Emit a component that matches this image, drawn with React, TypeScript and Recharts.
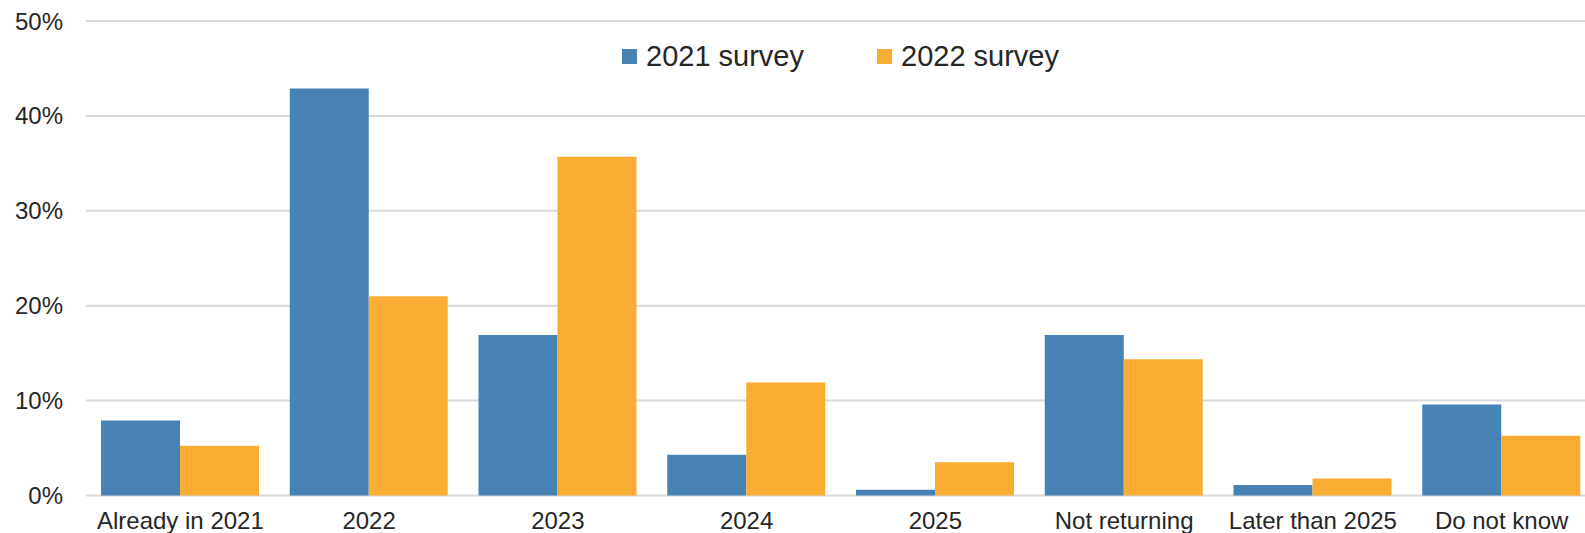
import { BarChart, Bar, XAxis, YAxis, CartesianGrid, Legend } from "recharts"

// Expected return year, share of respondents
const categories = [
  "Already in 2021",
  "2022",
  "2023",
  "2024",
  "2025",
  "Not returning",
  "Later than 2025",
  "Do not know",
]
const survey2021 = [7.9, 42.9, 16.9, 4.3, 0.6, 16.9, 1.1, 9.6]
const survey2022 = [5.25, 21.0, 35.7, 11.9, 3.5, 14.35, 1.8, 6.3]
const yTicks = [0, 10, 20, 30, 40, 50]

const BLUE = "#4682b4"
const ORANGE = "#f9ae33"
const TEXT = "#262626"
const FONT = "'Liberation Sans', Arial, sans-serif"

const data = categories.map((name, i) => ({
  name,
  s2021: survey2021[i],
  s2022: survey2022[i],
}))

const LegendContent = ({ payload }: any) => (
  <div style={{ display: "flex", alignItems: "center", fontFamily: FONT, fontSize: 29, lineHeight: "29px", color: TEXT }}>
    {(payload || []).map((entry: any, i: number) => (
      <div key={i} style={{ display: "flex", alignItems: "center", marginRight: i === 0 ? 73 : 0 }}>
        <span style={{ display: "inline-block", width: 15, height: 15, background: entry.color, marginRight: 9 }} />
        <span style={{ whiteSpace: "nowrap" }}>{entry.value}</span>
      </div>
    ))}
  </div>
)

export default function App() {
  return (
    <div style={{ position: "absolute", top: 0, left: 0, width: 1585, height: 533, overflow: "hidden", background: "#fff" }}>
      <BarChart
        width={1600}
        height={533}
        data={data}
        margin={{ top: 21, right: 4, left: 0, bottom: 0 }}
        barGap={0}
      >
        <CartesianGrid vertical={false} stroke="#d9d9d9" strokeWidth={2} />
        <XAxis
          dataKey="name"
          axisLine={false}
          tickLine={false}
          tickSize={0}
          tickMargin={16}
          height={37.5}
          interval={0}
          tick={{ fontSize: 24, fill: TEXT, fontFamily: FONT }}
        />
        <YAxis
          domain={[0, 50]}
          ticks={yTicks}
          width={86}
          axisLine={false}
          tickLine={false}
          tickSize={0}
          tickMargin={23}
          tickFormatter={(v) => `${v}%`}
          tick={{ fontSize: 24, fill: TEXT, fontFamily: FONT }}
        />
        <Legend
          verticalAlign="middle"
          align="center"
          layout="horizontal"
          content={<LegendContent />}
          wrapperStyle={{ top: 42, left: 622, width: "auto" }}
        />
        <Bar dataKey="s2021" name="2021 survey" fill={BLUE} barSize={79} isAnimationActive={false} />
        <Bar dataKey="s2022" name="2022 survey" fill={ORANGE} barSize={79} isAnimationActive={false} />
      </BarChart>
    </div>
  )
}
